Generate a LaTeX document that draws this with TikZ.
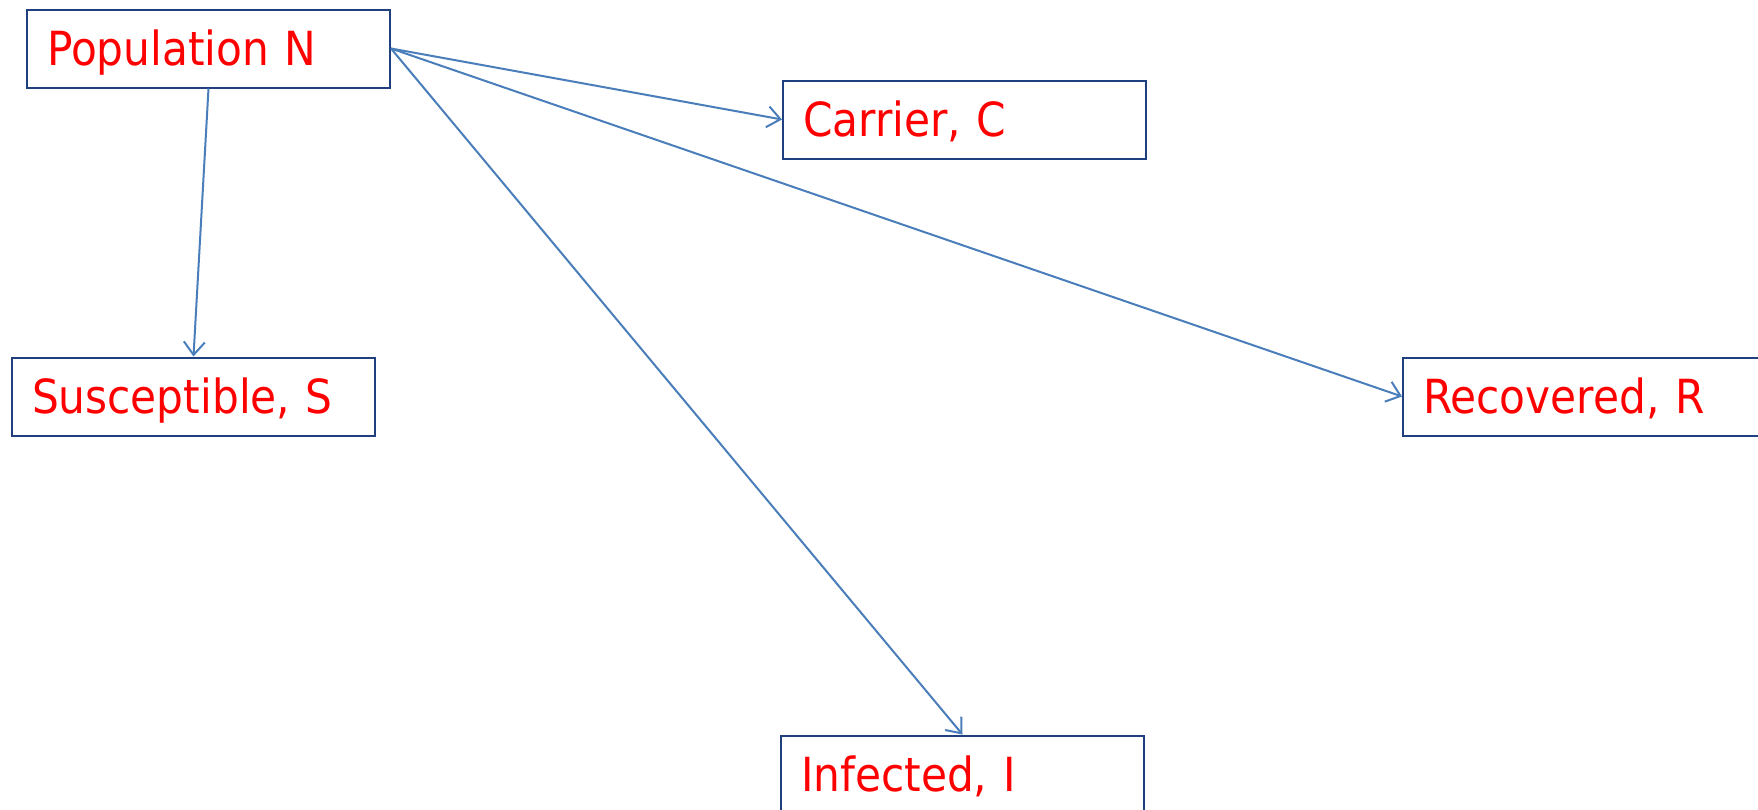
\documentclass[tikz,border=0pt]{standalone}
\usepackage{fontspec}
\setmainfont{DejaVu Sans}[FakeStretch=0.9]
\usetikzlibrary{arrows.meta}
\definecolor{boxblue}{HTML}{1F3F7F}
\definecolor{arrowblue}{HTML}{4A7EBB}
\begin{document}
\begin{tikzpicture}[x=1pt,y=-1pt,
  box/.style={draw=boxblue, line width=2pt, fill=white, anchor=north west,
    minimum width=363pt, minimum height=78pt, inner xsep=20pt, inner ysep=0pt,
    text width=323pt, align=left, text=red,
    font=\fontsize{47}{47}\selectfont, text height=34pt, text depth=0pt},
  conn/.style={draw=arrowblue, line width=2pt, -{Straight Barb[length=13pt,width=21pt]}}]
\fill[white] (0,0) rectangle (1758,809);
\useasboundingbox (0,0) rectangle (1758,809);
\node[box] (pop) at (26,8.5) {Population N};
\node[box] (car) at (782,79.5) {Carrier, C};
\node[box] (sus) at (11,356.5) {Susceptible, S};
\node[box] (rec) at (1402,356.5) {Recovered, R};
\node[box] (inf) at (780,734.5) {Infected, I};
\draw[conn] (pop.south) -- (sus.north);
\draw[conn] (pop.east) -- (car.west);
\draw[conn] (pop.east) -- (rec.west);
\draw[conn] (pop.east) -- (inf.north);
\end{tikzpicture}
\end{document}
